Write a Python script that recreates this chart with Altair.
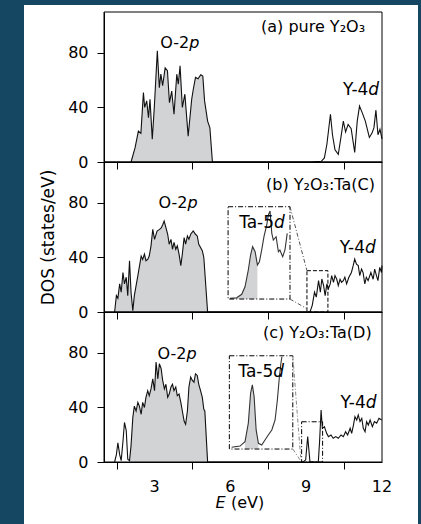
import altair as alt
import pandas as pd

# ---------------- data: energy E (eV) and DOS (states/eV) ----------------
# (a) pure Y2O3
a_o2p_e = [2.07, 2.23, 2.36, 2.46, 2.56, 2.61, 2.69, 2.76, 2.82, 2.91, 2.99, 3.11, 3.19, 3.25, 3.32,
           3.42, 3.51, 3.59, 3.68, 3.77, 3.88, 3.94, 4.01, 4.10, 4.20, 4.33, 4.47, 4.53, 4.62, 4.72,
           4.83, 4.91, 4.98, 5.10, 5.19, 5.29]
a_o2p_dos = [0, 10.5, 22.7, 21, 50.9, 40, 44.8, 32.5, 46, 16.7, 40, 81.5, 54.5, 64.4, 56,
             69, 67, 43.5, 52, 35, 64.4, 57, 70.5, 40, 49.7, 19, 46, 53, 62, 61,
             64, 63, 44.8, 30, 25, 0]
a_y4d_e = [9.2, 9.6, 9.72, 9.82, 9.96, 10.04, 10.14, 10.27, 10.38, 10.47, 10.56, 10.66, 10.78,
           10.92, 11.02, 11.11, 11.22, 11.34, 11.5, 11.6, 11.68, 11.76, 11.84, 11.92, 12.0]
a_y4d_dos = [0, 0.5, 3, 13, 35, 20, 9, 5.6, 18.6, 30, 22, 27.6, 24.5,
             7, 30, 41, 36, 30, 18, 21, 25, 38, 20, 24, 17]

# (b) Y2O3:Ta(C)
b_o2p_e = [1.42, 1.49, 1.55, 1.62, 1.68, 1.75, 1.81, 1.88, 1.94, 2.01, 2.07, 2.14, 2.2, 2.34, 2.47,
           2.53, 2.6, 2.66, 2.73, 2.79, 2.86, 2.93, 3.0, 3.1, 3.2, 3.27, 3.33, 3.38, 3.45, 3.52,
           3.58, 3.65, 3.71, 3.77, 3.84, 3.9, 3.97, 4.04, 4.1, 4.17, 4.23, 4.3, 4.36, 4.43, 4.53,
           4.62, 4.69, 4.75, 4.89, 4.95, 5.1]
b_o2p_dos = [0, 12, 10, 20.6, 14.5, 29, 20.6, 25.5, 12, 37.6, 14.5, 1, 12, 26.7, 41,
             38.5, 42.5, 37.6, 38.5, 41, 48.5, 60.6, 53.3, 59.4, 60.6, 61.8, 64.3, 66.7, 61.8, 57,
             49.7, 53.3, 46, 51, 46, 48.5, 42.5, 34, 42.5, 54.5, 49.7, 55.8, 53.3, 57, 59.4,
             57, 55.8, 49.7, 45, 40, 0]
b_y4d_e = [9.15, 9.24, 9.33, 9.4, 9.49, 9.56, 9.62, 9.69, 9.75, 9.82, 9.88, 9.95, 10.01, 10.08,
           10.14, 10.21, 10.27, 10.34, 10.4, 10.47, 10.53, 10.6, 10.69, 10.79, 10.86, 10.92, 10.99,
           11.06, 11.12, 11.19, 11.25, 11.32, 11.38, 11.45, 11.56, 11.65, 11.71, 11.78, 11.84,
           11.91, 11.98, 12.0]
b_y4d_dos = [0, 4.9, 14.5, 10.9, 23, 14.5, 24.2, 19.4, 12, 20.6, 17, 20.6, 26.7, 21.8,
             26.7, 24, 19.4, 24, 21.8, 23, 25.5, 20.6, 25.5, 29, 34, 38.8, 35,
             34, 26.7, 31.5, 29, 20.6, 25.5, 23, 29, 24, 31.5, 26.7, 23,
             32.7, 29, 34]
b_inset_e = [5.99, 6.25, 6.45, 6.58, 6.71, 6.8, 6.88, 6.98, 7.07, 7.15, 7.24, 7.33, 7.44, 7.5,
             7.57, 7.64, 7.7, 7.81, 7.9, 7.96, 8.07, 8.16, 8.25]
b_inset_dos = [10.0, 10.5, 13, 18.5, 30.8, 41.8, 47.9, 44.2, 34.5, 36.9, 45.5, 55.2, 63.8, 71.1,
               74, 57.7, 52.8, 55.2, 44.2, 45.5, 40.5, 45.5, 57.7]

# (c) Y2O3:Ta(D)
c_o2p_e = [1.42, 1.49, 1.55, 1.62, 1.68, 1.75, 1.81, 1.88, 1.94, 2.01, 2.07, 2.14, 2.2, 2.27, 2.34,
           2.4, 2.47, 2.53, 2.6, 2.66, 2.73, 2.79, 2.86, 2.93, 3.0, 3.06, 3.13, 3.19, 3.26, 3.32,
           3.39, 3.45, 3.52, 3.58, 3.65, 3.71, 3.77, 3.84, 3.9, 3.97, 4.04, 4.1, 4.17, 4.23, 4.3,
           4.36, 4.43, 4.49, 4.56, 4.62, 4.69, 4.75, 4.82, 4.89, 4.95, 4.99, 5.1]
c_o2p_dos = [0, 5.4, 14, 5.4, 1, 15, 29, 23, 2, 1, 12, 32.6, 41, 37.4, 43.7,
             41, 35, 43.7, 40, 47.4, 52.3, 48.6, 53.6, 61, 52.3, 73.3, 61, 72, 68.6, 60,
             53.6, 57, 47.4, 49.8, 55, 57, 52.3, 55, 48.6, 49.8, 43.7, 37.4, 30, 27.6, 37.4,
             55, 62.3, 60, 58.5, 64.7, 63.5, 57, 52.3, 47.4, 38.6, 37.4, 0]
c_y4d_e = [8.89, 8.98, 9.03, 9.06, 9.1, 9.15, 9.48, 9.53, 9.59, 9.64, 9.72, 9.81, 9.88, 9.98,
           10.07, 10.17, 10.27, 10.38, 10.47, 10.56, 10.64, 10.74, 10.8, 10.87, 10.93, 11.0,
           11.06, 11.13, 11.2, 11.26, 11.33, 11.39, 11.46, 11.53, 11.62, 11.7, 11.79, 11.88, 11.99]
c_y4d_dos = [0, 1.6, 12.4, 18.6, 10.3, 0, 0, 14.9, 38.1, 24.7, 25.9, 21, 18.6, 19.8,
             17.4, 18.6, 17.4, 19.8, 18.6, 22.2, 19.8, 24.7, 21, 27.1, 33.2, 30.8,
             34.5, 29.6, 32, 24.7, 22.2, 29.6, 27.1, 30.8, 25.9, 29.6, 28.4, 32, 30.8]
c_inset_e = [6.05, 6.38, 6.58, 6.71, 6.8, 6.87, 6.94, 7.02, 7.11, 7.24, 7.37, 7.5, 7.64, 7.77,
             7.86, 7.94, 8.0, 8.04]
c_inset_dos = [10.8, 11.7, 14.9, 28.4, 50.4, 56.5, 47.9, 23.5, 13.7, 12.5, 16.1, 19.8, 23.5, 30.8,
               45.5, 62.5, 72.4, 77.2]

x_ticks = [1.5, 3, 4.5, 6, 7.5, 9, 10.5, 12]
x_tick_labels = [3, 6, 9, 12]
y_ticks = [0, 20, 40, 60, 80, 100]

# ---------------- styling ----------------
W, H = 278, 150
FONT = "DejaVu Sans"
BG = "#164762"
FILL = "#d2d3d5"
LINE = "#111111"
INSET_LINE = "#333333"
one = pd.DataFrame({"k": [0]})


def df(e, d):
    return pd.DataFrame({"e": e, "dos": d})


def xenc():
    return alt.X("e:Q", scale=alt.Scale(domain=[1, 12], nice=False, zero=False),
                 axis=alt.Axis(values=x_ticks, labels=False, title=None, zindex=1))


def yenc(title):
    common = dict(values=y_ticks, labelPadding=9, labelOverlap=False, labelFlush=False, zindex=1,
                  labelExpr="datum.value % 40 == 0 ? datum.label : ''")
    if title:
        ax = alt.Axis(title=title, titlePadding=10, **common)
    else:
        ax = alt.Axis(title=None, **common)
    return alt.Y("dos:Q", scale=alt.Scale(domain=[0, 110], nice=False), axis=ax)


def txt(s, x, y, align, italic=False, size=16):
    props = dict(text=s, align=align, baseline="alphabetic", font=FONT, fontSize=size,
                 color="black")
    if italic:
        props["fontStyle"] = "italic"
    return alt.Chart(one).mark_text(**props).encode(x=alt.datum(x), y=alt.datum(y))


def split_label(left, right, x, y, size=16):
    return [txt(left, x, y, "right", size=size), txt(right, x, y, "left", italic=True, size=size)]


def box(x0, x1, y0, y1, dash, color="black"):
    return alt.Chart(one).mark_rect(fillOpacity=0, stroke=color, strokeWidth=1,
                                    strokeDash=dash).encode(
        x=alt.datum(x0), x2=alt.datum(x1), y=alt.datum(y0), y2=alt.datum(y1))


def connector(x0, y0, x1, y1, color="#555555"):
    return alt.Chart(one).mark_rule(color=color, strokeWidth=1, strokeDash=[4, 2, 1, 2]).encode(
        x=alt.datum(x0), y=alt.datum(y0), x2=alt.datum(x1), y2=alt.datum(y1))


frame = alt.Chart(one).mark_rect(fillOpacity=0, stroke="black", strokeWidth=1).encode(
    x=alt.value(0), x2=alt.value(W), y=alt.value(0), y2=alt.value(H))


def panel(fill_df, line_df, ytitle, extra):
    X, Y = xenc(), yenc(ytitle)
    fill = alt.Chart(fill_df).mark_area(color=FILL, opacity=1).encode(x=X, y=Y)
    line = alt.Chart(line_df).mark_line(color=LINE, strokeWidth=1.1).encode(x=X, y=Y)
    layers = [fill, line] + extra + [frame]
    return alt.layer(*layers).properties(width=W, height=H)


# ---------------- white sheet behind the figure (own, first view) ----------------
sheet = alt.Chart(one).mark_rect(color="white").encode(
    x=alt.value(-80), x2=alt.value(314), y=alt.value(-6), y2=alt.value(513)
).properties(width=W, height=1)

# ---------------- panel (a) ----------------
a_o2p = df(a_o2p_e, a_o2p_dos)
a_line = pd.concat([a_o2p, df(a_y4d_e, a_y4d_dos)], ignore_index=True)
pa = panel(a_o2p, a_line, None,
           [txt("(a) pure Y\u2082O\u2083", 11.33, 95.5, "right")]
           + split_label("O-2", "p", 4.37, 83.4)
           + split_label("Y-4", "d", 11.46, 49.1, size=17))

# ---------------- panel (b) ----------------
b_o2p = df(b_o2p_e, b_o2p_dos)
b_line = pd.concat([b_o2p, df(b_y4d_e, b_y4d_dos)], ignore_index=True)
b_ins = df(b_inset_e, b_inset_dos)
X_b, Y_b = xenc(), yenc("DOS (states/eV)")
b_ins_fill = alt.Chart(b_ins[b_ins.e <= 7.07]).mark_area(color=FILL, opacity=1).encode(
    x=X_b, y=Y_b, y2=alt.datum(9.5))
b_ins_line = alt.Chart(b_ins).mark_line(color=INSET_LINE, strokeWidth=1.1).encode(x=X_b, y=Y_b)
pb = panel(b_o2p, b_line, "DOS (states/eV)",
           [b_ins_fill, b_ins_line,
            box(5.91, 8.36, 9.5, 77.2, [5, 2, 1, 2]),
            box(9.03, 9.86, 0, 30.3, [4, 2]),
            connector(8.36, 77.2, 9.03, 30.3),
            connector(8.36, 9.5, 9.0, 2.7),
            txt("(b) Y\u2082O\u2083:Ta(C)", 11.72, 89.4, "right")]
           + split_label("O-2", "p", 4.30, 76.0)
           + split_label("Ta-5", "d", 7.73, 61.4, size=17)
           + split_label("Y-4", "d", 11.33, 43.0, size=17))

# ---------------- panel (c) ----------------
c_o2p = df(c_o2p_e, c_o2p_dos)
c_line = pd.concat([c_o2p, df(c_y4d_e, c_y4d_dos)], ignore_index=True)
c_ins = df(c_inset_e, c_inset_dos)
X_c, Y_c = xenc(), yenc(None)
c_ins_fill = alt.Chart(c_ins[(c_ins.e >= 6.58) & (c_ins.e <= 7.11)]).mark_area(
    color=FILL, opacity=1).encode(x=X_c, y=Y_c, y2=alt.datum(9.5))
c_ins_line = alt.Chart(c_ins).mark_line(color=INSET_LINE, strokeWidth=1.1).encode(x=X_c, y=Y_c)
# tick labels of the energy axis, placed under the bottom panel
x_lab = alt.Chart(pd.DataFrame({"e": x_tick_labels})).mark_text(
    baseline="alphabetic", align="center", font=FONT, fontSize=16, color="black"
).encode(x=X_c, y=alt.value(H + 30), text=alt.Text("e:Q", format="d"))
xtitle = [
    alt.Chart(one).mark_text(text="E", align="right", baseline="middle", font=FONT, fontSize=16,
                             fontStyle="italic", color="black").encode(
        x=alt.value(121.5), y=alt.value(191)),
    alt.Chart(one).mark_text(text="(eV)", align="left", baseline="middle", font=FONT, fontSize=16,
                             color="black").encode(x=alt.value(127), y=alt.value(191)),
]
pc = panel(c_o2p[c_o2p.e >= 2.0], c_line, None,
           [c_ins_fill, c_ins_line,
            box(5.96, 8.47, 9.5, 77.9, [5, 2, 1, 2]),
            box(8.82, 9.65, 0, 29.5, [5, 2, 1, 2]),
            connector(8.47, 77.9, 8.78, 3.5, color="#888888"),
            connector(8.47, 9.5, 8.76, 1.5, color="#888888"),
            txt("(c) Y\u2082O\u2083:Ta(D)", 11.59, 90.7, "right")]
           + split_label("O-2", "p", 4.26, 75.3)
           + split_label("Ta-5", "d", 7.70, 62.1, size=17)
           + split_label("Y-4", "d", 11.36, 39.4, size=17)
           + [x_lab] + xtitle)

chart = alt.vconcat(sheet, pa, pb, pc, spacing=0, bounds="flush").properties(
    padding={"left": 24, "top": 5, "right": 3, "bottom": 0}
).configure(background=BG).configure_view(stroke=None).configure_axis(
    domainColor="black", domainWidth=1, tickColor="black", tickWidth=1, tickSize=7,
    labelColor="black", labelFont=FONT, labelFontSize=16, grid=False,
    titleFont=FONT, titleFontSize=17, titleColor="black", titleFontWeight="normal"
)

chart.save("out.html", embed_options={"renderer": "svg", "actions": False})
